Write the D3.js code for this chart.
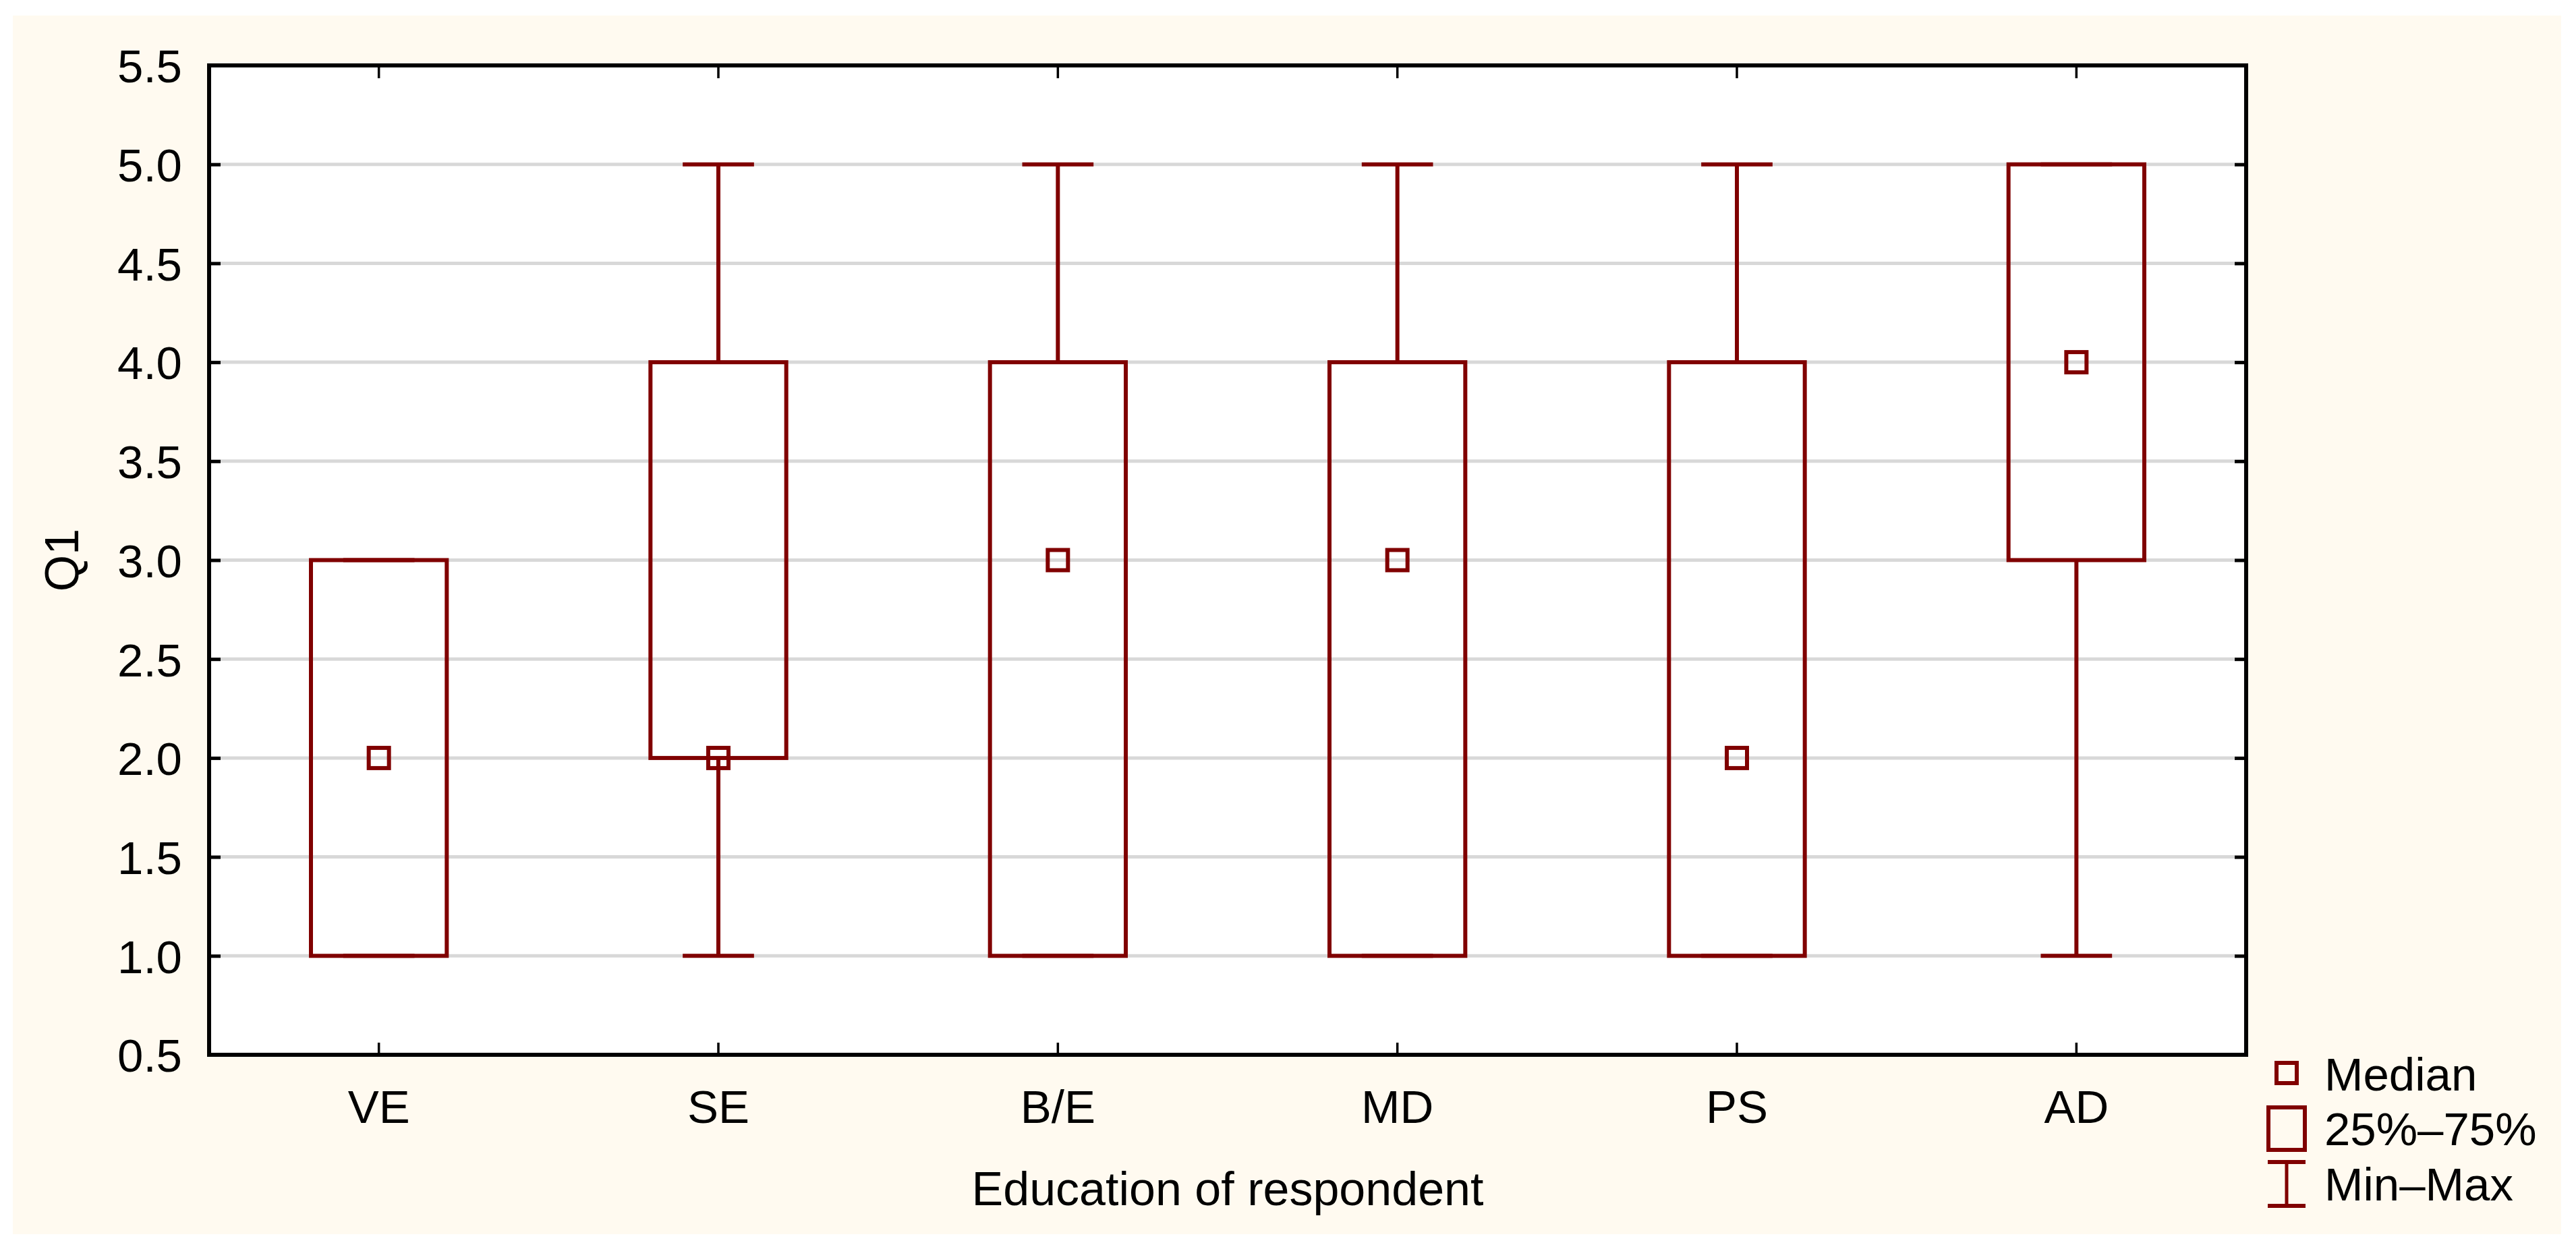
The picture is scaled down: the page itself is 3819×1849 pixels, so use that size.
<!DOCTYPE html>
<html>
<head>
<meta charset="utf-8">
<script src="https://cdn.jsdelivr.net/npm/d3@7"></script>
<style>
  body { margin: 0; background: #ffffff; }
  text { font-family: "Liberation Sans", Arial, sans-serif; fill: #000; }
</style>
</head>
<body>
<div id="chart"></div>
<script>
// values
const categories = ["VE", "SE", "B/E", "MD", "PS", "AD"];
const minVals    = [1, 1, 1, 1, 1, 1];
const q1Vals     = [1, 2, 1, 1, 1, 3];
const medianVals = [2, 2, 3, 3, 2, 4];
const q3Vals     = [3, 4, 4, 4, 4, 5];
const maxVals    = [3, 5, 5, 5, 5, 5];
const yTicks = [0.5, 1.0, 1.5, 2.0, 2.5, 3.0, 3.5, 4.0, 4.5, 5.0, 5.5];
const gridVals = [1.0, 1.5, 2.0, 2.5, 3.0, 3.5, 4.0, 4.5, 5.0];
const legendLabels = ["Median", "25%\u201375%", "Min\u2013Max"];

const W = 3819, H = 1849;
const margin = {top: 97, right: 489, bottom: 285, left: 310};
const width = W - margin.left - margin.right,
      height = H - margin.top - margin.bottom;
const red = "#800000";

const data = categories.map((c, i) => ({
  name: c, min: minVals[i], q1: q1Vals[i], med: medianVals[i], q3: q3Vals[i], max: maxVals[i]
}));

const svg = d3.select("#chart")
  .append("svg")
  .attr("width", W)
  .attr("height", H);

// cream page background
svg.append("rect")
  .attr("x", 19).attr("y", 23)
  .attr("width", 3797 - 19).attr("height", 1830 - 23)
  .attr("fill", "#fffaf0");

const g = svg.append("g")
  .attr("transform", "translate(" + margin.left + "," + margin.top + ")");

const x = d3.scaleBand()
  .domain(categories)
  .range([0, width]);

const y = d3.scaleLinear()
  .domain([0.5, 5.5])
  .range([height, 0]);

g.append("rect")
  .attr("width", width).attr("height", height)
  .attr("fill", "#ffffff");

// grid
g.selectAll(".grid")
  .data(gridVals)
  .enter()
  .append("line")
  .attr("x1", 0).attr("x2", width)
  .attr("y1", d => y(d)).attr("y2", d => y(d))
  .attr("stroke", "#d8d8d8")
  .attr("stroke-width", 5);

// axes
const fmt = d3.format(".1f");
const yAxis = g.append("g")
  .call(d3.axisLeft(y).tickValues(yTicks).tickSize(-17).tickPadding(40).tickFormat(fmt));
const yAxisR = g.append("g")
  .attr("transform", "translate(" + width + ",0)")
  .call(d3.axisRight(y).tickValues(yTicks).tickSize(-17).tickFormat(""));
const xAxis = g.append("g")
  .attr("transform", "translate(0," + height + ")")
  .call(d3.axisBottom(x).tickSize(-18).tickPadding(52));
const xAxisT = g.append("g")
  .call(d3.axisTop(x).tickSize(-19).tickFormat(""));

[yAxis, yAxisR].forEach(a => a.selectAll(".tick line").attr("stroke", "#000").attr("stroke-width", 5));
[xAxis, xAxisT].forEach(a => a.selectAll(".tick line").attr("stroke", "#000").attr("stroke-width", 3.5));
[yAxis, yAxisR, xAxis, xAxisT].forEach(a => a.select(".domain").remove());
// no tick marks on the frame corners
yAxis.selectAll(".tick").filter(d => d === 0.5 || d === 5.5).select("line").remove();
yAxisR.selectAll(".tick").filter(d => d === 0.5 || d === 5.5).select("line").remove();

yAxis.selectAll("text")
  .style("font-size", "69px")
  .attr("dy", "0.36em")
  .style("font-family", "'Liberation Sans', Arial, sans-serif");
xAxis.selectAll("text")
  .style("font-size", "69px")
  .style("font-family", "'Liberation Sans', Arial, sans-serif");

// frame
g.append("rect")
  .attr("width", width).attr("height", height)
  .attr("fill", "none")
  .attr("stroke", "#000")
  .attr("stroke-width", 6);

// boxes
const bw = x.bandwidth() * 0.4;
const capW = x.bandwidth() * 0.21;
const cx = d => x(d.name) + x.bandwidth() / 2;

const boxes = g.selectAll(".box")
  .data(data)
  .enter()
  .append("g");

boxes.append("line")
  .attr("x1", cx).attr("x2", cx)
  .attr("y1", d => y(d.max)).attr("y2", d => y(d.q3))
  .attr("stroke", red).attr("stroke-width", 6);
boxes.append("line")
  .attr("x1", cx).attr("x2", cx)
  .attr("y1", d => y(d.q1)).attr("y2", d => y(d.min))
  .attr("stroke", red).attr("stroke-width", 6);
boxes.append("line")
  .attr("x1", d => cx(d) - capW / 2).attr("x2", d => cx(d) + capW / 2)
  .attr("y1", d => y(d.max)).attr("y2", d => y(d.max))
  .attr("stroke", red).attr("stroke-width", 6);
boxes.append("line")
  .attr("x1", d => cx(d) - capW / 2).attr("x2", d => cx(d) + capW / 2)
  .attr("y1", d => y(d.min)).attr("y2", d => y(d.min))
  .attr("stroke", red).attr("stroke-width", 6);
boxes.append("rect")
  .attr("x", d => cx(d) - bw / 2)
  .attr("y", d => y(d.q3))
  .attr("width", bw)
  .attr("height", d => y(d.q1) - y(d.q3))
  .attr("fill", "none")
  .attr("stroke", red).attr("stroke-width", 6);
boxes.append("rect")
  .attr("x", d => cx(d) - 15)
  .attr("y", d => y(d.med) - 15)
  .attr("width", 30).attr("height", 30)
  .attr("fill", "none")
  .attr("stroke", red).attr("stroke-width", 6);

// axis titles
svg.append("text")
  .attr("x", margin.left + width / 2)
  .attr("y", 1787)
  .attr("text-anchor", "middle")
  .style("font-size", "70px")
  .text("Education of respondent");

svg.append("text")
  .attr("transform", "translate(116," + (margin.top + height / 2) + ")rotate(-90)")
  .attr("text-anchor", "middle")
  .style("font-size", "70px")
  .text("Q1");

// legend
const lg = svg.append("g");
const lx = 3390;
lg.append("rect")
  .attr("x", lx - 15).attr("y", 1576).attr("width", 30).attr("height", 30)
  .attr("fill", "none").attr("stroke", red).attr("stroke-width", 6);
lg.append("rect")
  .attr("x", lx - 27).attr("y", 1642).attr("width", 54).attr("height", 63)
  .attr("fill", "none").attr("stroke", red).attr("stroke-width", 6);
lg.append("line")
  .attr("x1", lx - 28).attr("x2", lx + 28).attr("y1", 1723).attr("y2", 1723)
  .attr("stroke", red).attr("stroke-width", 6);
lg.append("line")
  .attr("x1", lx - 28).attr("x2", lx + 28).attr("y1", 1788).attr("y2", 1788)
  .attr("stroke", red).attr("stroke-width", 6);
lg.append("line")
  .attr("x1", lx).attr("x2", lx).attr("y1", 1723).attr("y2", 1788)
  .attr("stroke", red).attr("stroke-width", 5);

lg.selectAll(".ltext")
  .data(legendLabels)
  .enter()
  .append("text")
  .attr("x", 3446)
  .attr("y", (d, i) => [1617, 1698, 1780][i])
  .style("font-size", "69px")
  .text(d => d);
</script>
</body>
</html>
